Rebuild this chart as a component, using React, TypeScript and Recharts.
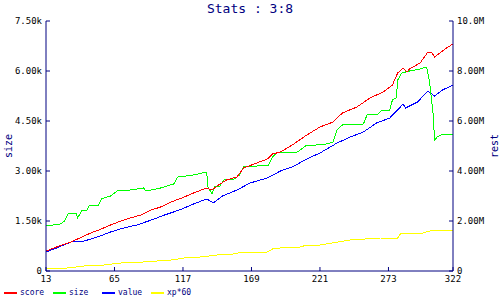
import React from "react";
import { LineChart, Line, XAxis, YAxis, Legend } from "recharts";

const xTicks = [13, 65, 117, 169, 221, 273, 322];
const sizeTicks = [0, 1500, 3000, 4500, 6000, 7500];
const restTicks = [0, 2, 4, 6, 8, 10];

// size (left axis, raw units)
const sizeX = [13, 24, 27, 30, 36, 37, 40, 44, 46, 53, 55, 62, 68, 77, 87, 89, 100, 105, 110, 113, 125, 135, 136, 139, 141, 145, 148, 156, 160, 163, 173, 182, 185, 188, 204, 210, 226, 231, 234, 238, 254, 257, 265, 268, 274, 276, 279, 280, 283, 289, 297, 302, 304, 307, 308, 310, 314, 322];
const sizeY = [1350, 1410, 1500, 1740, 1740, 1590, 1800, 1830, 1980, 1980, 2160, 2250, 2430, 2430, 2490, 2400, 2490, 2550, 2610, 2820, 2880, 2970, 2520, 2310, 2520, 2550, 2730, 2760, 2880, 3120, 3150, 3180, 3420, 3540, 3570, 3750, 3810, 3870, 4230, 4380, 4410, 4710, 4710, 4830, 4830, 5130, 5190, 5730, 5940, 6000, 6060, 6120, 5730, 4680, 3930, 4020, 4110, 4110];

// score (right axis, millions)
const scoreX = [13, 21, 32, 42, 47, 55, 62, 70, 77, 85, 93, 100, 108, 118, 125, 135, 139, 144, 150, 158, 163, 173, 181, 185, 191, 200, 211, 221, 231, 238, 249, 259, 269, 276, 280, 284, 287, 289, 297, 303, 306, 308, 312, 317, 322];
const scoreY = [0.8, 0.96, 1.16, 1.4, 1.52, 1.68, 1.84, 2.0, 2.12, 2.24, 2.44, 2.56, 2.76, 2.96, 3.12, 3.32, 3.24, 3.44, 3.64, 3.76, 4.12, 4.32, 4.48, 4.68, 4.76, 5.04, 5.44, 5.76, 5.96, 6.32, 6.56, 6.92, 7.16, 7.44, 7.92, 8.12, 7.96, 8.08, 8.32, 8.76, 8.72, 8.56, 8.72, 8.92, 9.08];

// value (right axis, millions)
const valueX = [13, 21, 32, 42, 52, 62, 72, 82, 93, 103, 112, 118, 125, 135, 139, 141, 147, 158, 168, 181, 191, 200, 211, 221, 234, 244, 254, 264, 274, 282, 284, 286, 289, 295, 303, 308, 314, 322];
const valueY = [0.76, 0.92, 1.16, 1.2, 1.36, 1.56, 1.72, 1.84, 2.04, 2.24, 2.4, 2.52, 2.68, 2.88, 2.76, 2.76, 3.0, 3.24, 3.52, 3.72, 4.0, 4.16, 4.48, 4.72, 5.12, 5.36, 5.56, 5.92, 6.12, 6.56, 6.68, 6.52, 6.6, 6.76, 7.2, 7.0, 7.24, 7.44];

// xp*60 (right axis, millions)
const xpX = [13, 29, 42, 57, 70, 87, 108, 118, 130, 143, 155, 163, 181, 185, 191, 206, 211, 221, 244, 267, 280, 282, 287, 299, 307, 322];
const xpY = [0.12, 0.12, 0.2, 0.24, 0.32, 0.36, 0.44, 0.52, 0.56, 0.64, 0.68, 0.76, 0.76, 0.88, 0.92, 0.96, 1.04, 1.04, 1.24, 1.32, 1.32, 1.48, 1.52, 1.52, 1.64, 1.64];

const zip = (xs: number[], ys: number[]) => xs.map((x, i) => ({ x, v: ys[i] }));
const sizeData = zip(sizeX, sizeY);
const scoreData = zip(scoreX, scoreY);
const valueData = zip(valueX, valueY);
const xpData = zip(xpX, xpY);

const legendItems = [
  { name: "score", color: "#ff0000" },
  { name: "size", color: "#00ff00" },
  { name: "value", color: "#0000ff" },
  { name: "xp*60", color: "#ffff00" },
];

const NAVY = "#000080";
const MONO = "'DejaVu Sans Mono', monospace";
const tickStyle = { fontSize: 9, fontFamily: MONO, fill: "#000" };

const fmtSize = (v: number) => (v === 0 ? "0" : (v / 1000).toFixed(2) + "k");
const fmtRest = (v: number) => (v === 0 ? "0" : v >= 10 ? v.toFixed(1) + "M" : v.toFixed(2) + "M");

const axisLabel = (text: string, side: "left" | "right") => (props: any) => {
  const vb = props.viewBox || {};
  const cx = side === "left" ? vb.x + 8 : vb.x + vb.width - 6;
  const cy = vb.y + vb.height / 2;
  return (
    <text
      x={cx}
      y={cy}
      transform={`rotate(-90 ${cx} ${cy})`}
      textAnchor="middle"
      dominantBaseline="central"
      fontFamily={MONO}
      fontSize={10}
      fill={NAVY}
    >
      {text}
    </text>
  );
};

const LegendContent = () => (
  <div style={{ position: "relative", height: 14, width: 500 }}>
    {legendItems.map((it, i) => (
      <div
        key={it.name}
        style={{ position: "absolute", left: 4 + i * 49, top: 0, height: 14, display: "flex", alignItems: "center" }}
      >
        <div style={{ width: 13, height: 2, background: it.color, marginRight: 3 }} />
        <span style={{ fontFamily: MONO, fontSize: 8, color: NAVY, lineHeight: "14px" }}>{it.name}</span>
      </div>
    ))}
  </div>
);

export default function App() {
  return (
    <div style={{ position: "absolute", left: 0, top: 0, width: 500, height: 300, background: "#fff" }}>
      <div
        style={{
          position: "absolute",
          left: 0,
          top: 0,
          width: 500,
          textAlign: "center",
          fontFamily: MONO,
          fontSize: 13,
          color: NAVY,
          lineHeight: "17px",
        }}
      >
        Stats : 3:8
      </div>
      <LineChart width={500} height={300} margin={{ top: 21, right: 0, bottom: 0, left: 0 }}>
        <XAxis
          dataKey="x"
          type="number"
          domain={[13, 322]}
          ticks={xTicks}
          allowDataOverflow
          height={15}
          stroke={NAVY}
          tickSize={-4}
          tickMargin={9}
          tick={tickStyle}
          interval={0}
        />
        <YAxis
          yAxisId="size"
          orientation="left"
          domain={[0, 7500]}
          ticks={sizeTicks}
          width={46}
          stroke={NAVY}
          tickSize={-4}
          tickMargin={8}
          tick={tickStyle}
          tickFormatter={fmtSize}
          interval={0}
          label={{ content: axisLabel("size", "left") }}
        />
        <YAxis
          yAxisId="rest"
          orientation="right"
          domain={[0, 10]}
          ticks={restTicks}
          width={47}
          stroke={NAVY}
          tickSize={-4}
          tickMargin={8}
          tick={{ ...tickStyle, textAnchor: "start" }}
          tickFormatter={fmtRest}
          interval={0}
          label={{ content: axisLabel("rest", "right") }}
        />
        <Legend verticalAlign="bottom" align="left" content={<LegendContent />} wrapperStyle={{ left: 0, height: 14 }} />
        <Line yAxisId="rest" data={xpData} dataKey="v" name="xp*60" stroke="#ffff00" strokeWidth={1} dot={false} type="linear" isAnimationActive={false} shapeRendering="crispEdges" />
        <Line yAxisId="rest" data={valueData} dataKey="v" name="value" stroke="#0000ff" strokeWidth={1} dot={false} type="linear" isAnimationActive={false} shapeRendering="crispEdges" />
        <Line yAxisId="size" data={sizeData} dataKey="v" name="size" stroke="#00ff00" strokeWidth={1} dot={false} type="linear" isAnimationActive={false} shapeRendering="crispEdges" />
        <Line yAxisId="rest" data={scoreData} dataKey="v" name="score" stroke="#ff0000" strokeWidth={1} dot={false} type="linear" isAnimationActive={false} shapeRendering="crispEdges" />
      </LineChart>
    </div>
  );
}
